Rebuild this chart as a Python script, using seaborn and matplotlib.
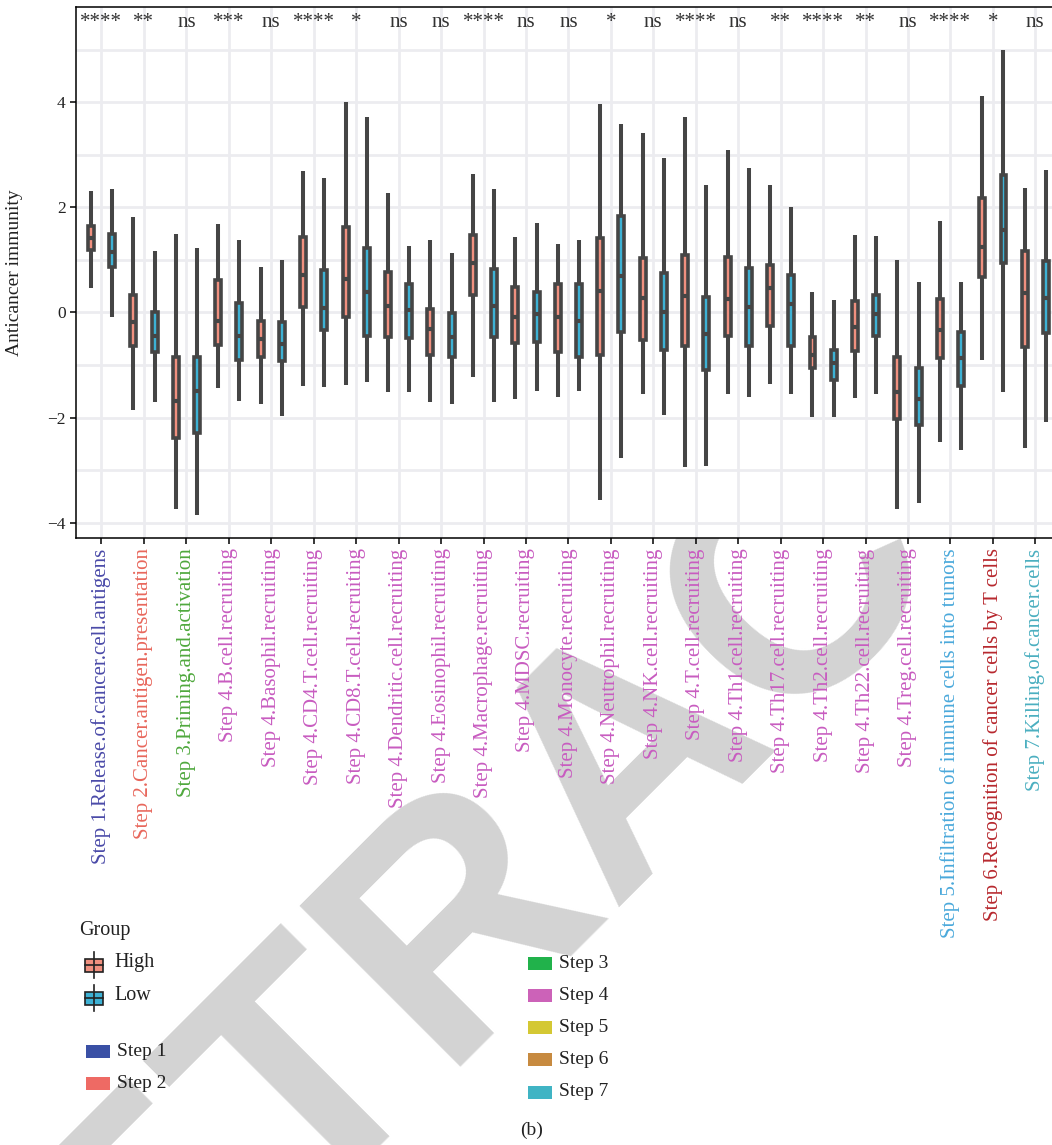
import numpy as np
import pandas as pd
import matplotlib
matplotlib.use("Agg")
import matplotlib.pyplot as plt
import seaborn as sns
from matplotlib.patches import Rectangle
from matplotlib.lines import Line2D

# ---------------- data ----------------
categories = [
    "Step 1.Release.of.cancer.cell.antigens",
    "Step 2.Cancer.antigen.presentation",
    "Step 3.Priming.and.activation",
    "Step 4.B.cell.recruiting",
    "Step 4.Basophil.recruiting",
    "Step 4.CD4.T.cell.recruiting",
    "Step 4.CD8.T.cell.recruiting",
    "Step 4.Dendritic.cell.recruiting",
    "Step 4.Eosinophil.recruiting",
    "Step 4.Macrophage.recruiting",
    "Step 4.MDSC.recruiting",
    "Step 4.Monocyte.recruiting",
    "Step 4.Neutrophil.recruiting",
    "Step 4.NK.cell.recruiting",
    "Step 4.T.cell.recruiting",
    "Step 4.Th1.cell.recruiting",
    "Step 4.Th17.cell.recruiting",
    "Step 4.Th2.cell.recruiting",
    "Step 4.Th22.cell.recruiting",
    "Step 4.Treg.cell.recruiting",
    "Step 5.Infiltration of immune cells into tumors",
    "Step 6.Recognition of cancer cells by T cells",
    "Step 7.Killing.of.cancer.cells",
]
category_step = [1, 2, 3, 4, 4, 4, 4, 4, 4, 4, 4, 4, 4, 4, 4, 4, 4, 4, 4, 4, 5, 6, 7]

significance = ["****", "**", "ns", "***", "ns", "****", "*", "ns", "ns", "****", "ns", "ns",
                "*", "ns", "****", "ns", "**", "****", "**", "ns", "****", "*", "ns"]

# five-number summaries (lower whisker, Q1, median, Q3, upper whisker)
high_lo = [0.46, -1.85, -3.73, -1.44, -1.74, -1.39, -1.38, -1.51, -1.70, -1.22, -1.65, -1.61,
           -3.56, -1.56, -2.94, -1.56, -1.37, -1.99, -1.63, -3.73, -2.46, -0.91, -2.58]
high_q1 = [1.19, -0.63, -2.39, -0.61, -0.85, 0.11, -0.08, -0.47, -0.80, 0.34, -0.58, -0.75,
           -0.80, -0.53, -0.63, -0.44, -0.25, -1.05, -0.73, -2.02, -0.87, 0.67, -0.65]
high_med = [1.42, -0.19, -1.68, -0.16, -0.51, 0.71, 0.63, 0.13, -0.32, 0.95, -0.09, -0.09,
            0.41, 0.27, 0.31, 0.25, 0.46, -0.80, -0.28, -1.51, -0.34, 1.25, 0.37]
high_q3 = [1.65, 0.34, -0.84, 0.61, -0.17, 1.44, 1.62, 0.77, 0.07, 1.47, 0.49, 0.54,
           1.42, 1.03, 1.10, 1.05, 0.90, -0.47, 0.22, -0.85, 0.25, 2.17, 1.16]
high_hi = [2.31, 1.82, 1.49, 1.68, 0.87, 2.69, 4.00, 2.28, 1.37, 2.63, 1.44, 1.31,
           3.97, 3.42, 3.72, 3.09, 2.42, 0.38, 1.48, 1.00, 1.74, 4.11, 2.37]

low_lo = [-0.08, -1.71, -3.85, -1.68, -1.97, -1.42, -1.33, -1.51, -1.74, -1.70, -1.50, -1.49,
          -2.77, -1.95, -2.92, -1.60, -1.55, -1.99, -1.55, -3.62, -2.62, -1.52, -2.09]
low_q1 = [0.86, -0.75, -2.29, -0.91, -0.92, -0.34, -0.44, -0.49, -0.85, -0.46, -0.56, -0.85,
          -0.38, -0.71, -1.10, -0.63, -0.64, -1.28, -0.44, -2.14, -1.39, 0.94, -0.39]
low_med = [1.15, -0.44, -1.49, -0.44, -0.60, 0.09, 0.38, 0.05, -0.47, 0.13, -0.03, -0.16,
           0.70, 0.00, -0.41, 0.11, 0.16, -0.96, -0.02, -1.65, -0.86, 1.56, 0.27]
low_q3 = [1.49, 0.00, -0.84, 0.18, -0.19, 0.80, 1.23, 0.54, -0.01, 0.82, 0.39, 0.54,
          1.84, 0.75, 0.30, 0.85, 0.72, -0.71, 0.33, -1.05, -0.38, 2.62, 0.97]
low_hi = [2.34, 1.16, 1.23, 1.37, 1.00, 2.55, 3.72, 1.27, 1.14, 2.34, 1.70, 1.37,
          3.59, 2.94, 2.42, 2.75, 2.01, 0.23, 1.46, 0.57, 0.57, 5.00, 2.71]

groups = ["High", "Low"]
group_colors = ["#F0907F", "#3DB1D4"]

step_names = ["Step 1", "Step 2", "Step 3", "Step 4", "Step 5", "Step 6", "Step 7"]
step_legend_colors = ["#3A50A5", "#EE6A64", "#21B24B", "#CC62B8", "#D4C834", "#C78A40", "#40B4C4"]
step_label_colors = ["#4A4AA8", "#E8675C", "#4FA83D", "#C85CC0", "#4BA9DB", "#B7282E", "#4BAFC0"]

# ---------------- build long table ----------------
rows = []
stats = {
    "High": list(zip(high_lo, high_q1, high_med, high_q3, high_hi)),
    "Low": list(zip(low_lo, low_q1, low_med, low_q3, low_hi)),
}
for i, cat in enumerate(categories):
    for g in groups:
        for v in stats[g][i]:
            rows.append((cat, g, v))
df = pd.DataFrame(rows, columns=["category", "group", "value"])

# ---------------- figure ----------------
W, H = 1052, 1145
plt.rcParams["font.family"] = ["Liberation Serif", "DejaVu Serif"]
fig = plt.figure(figsize=(W / 100, H / 100), dpi=100)
fig.patch.set_facecolor("white")

def fx(x):
    return x / W

def fy(y):
    return 1 - y / H

ax = fig.add_axes([fx(76), fy(538), 984.8 / W, 531 / H])
ax.set_facecolor("white")
ax.set_axisbelow(True)

EDGE = "#454545"
sns.boxplot(
    data=df, x="category", y="value", hue="group",
    order=categories, hue_order=groups,
    palette=dict(zip(groups, group_colors)), saturation=1,
    width=1.0, gap=0.72, whis=(0, 100), showcaps=False, fliersize=0,
    linecolor=EDGE, linewidth=2.6,
    medianprops=dict(color=EDGE, linewidth=3.0),
    whiskerprops=dict(color=EDGE, linewidth=2.9),
    legend=False, ax=ax,
)

ax.set_xlim(-0.6, len(categories) - 0.4)
ax.set_ylim(-4.29, 5.81)
ax.set_yticks([-4, -2, 0, 2, 4])
ax.set_yticks([-3, -1, 1, 3, 5], minor=True)
ax.grid(True, which="major", color="#ECECF0", linewidth=2.0)
ax.grid(True, which="minor", axis="y", color="#ECECF0", linewidth=2.0)
ax.tick_params(which="minor", length=0)
ax.tick_params(which="major", direction="out", length=4.5, width=1.1, color="black", pad=3)
ax.tick_params(axis="y", labelsize=12.5, labelcolor="#222222")
for s in ax.spines.values():
    s.set_color("black")
    s.set_linewidth(1.1)

ax.set_xlabel("")
ax.set_ylabel("Anticancer immunity", fontsize=14, color="#222222", labelpad=17)
ax.set_xticks(range(len(categories)))
ax.set_xticklabels(categories, rotation=90, fontsize=15, ha="center", va="top")
for lab, st in zip(ax.get_xticklabels(), category_step):
    lab.set_color(step_label_colors[st - 1])

for i, sig in enumerate(significance):
    ax.text(i, 5.43, sig, ha="center", va="baseline", fontsize=15, color="#333333")

# ---------------- watermark ----------------
fig.text(fx(632), fy(752), "RETRACTED", rotation=45, rotation_mode="anchor",
         ha="center", va="center", fontsize=238, fontweight="bold",
         family="Liberation Sans", color="#D3D3D3", zorder=-10)

# ---------------- legends ----------------
fig.text(fx(79), fy(930), "Group", fontsize=14.5, va="center", ha="left", color="#222222")
for g, c, yc in zip(groups, group_colors, [965, 998]):
    fig.add_artist(Line2D([fx(94), fx(94)], [fy(yc - 13), fy(yc + 13)],
                          color="#222222", linewidth=1.2, transform=fig.transFigure))
    fig.add_artist(Rectangle((fx(85), fy(yc + 6.5)), 18 / W, 13 / H, facecolor=c,
                             edgecolor="#222222", linewidth=1.2, transform=fig.transFigure))
    fig.add_artist(Line2D([fx(85), fx(103)], [fy(yc), fy(yc)], color="#222222",
                          linewidth=1.2, transform=fig.transFigure))
    fig.text(fx(114), fy(yc - 2), g, fontsize=14.5, va="center", ha="left", color="#222222")

step_pos = [(86, 1051), (86, 1083), (528, 963), (528, 995), (528, 1027), (528, 1059), (528, 1092)]
for name, c, (x0, yc) in zip(step_names, step_legend_colors, step_pos):
    fig.add_artist(Rectangle((fx(x0), fy(yc + 6.5)), 24 / W, 13 / H, facecolor=c,
                             edgecolor="none", transform=fig.transFigure))
    fig.text(fx(x0 + 31), fy(yc), name, fontsize=14, va="center", ha="left", color="#222222")

fig.text(fx(532), fy(1130), "(b)", fontsize=14, va="center", ha="center", color="#222222")

fig.savefig("out.png", dpi=100, facecolor="white")
